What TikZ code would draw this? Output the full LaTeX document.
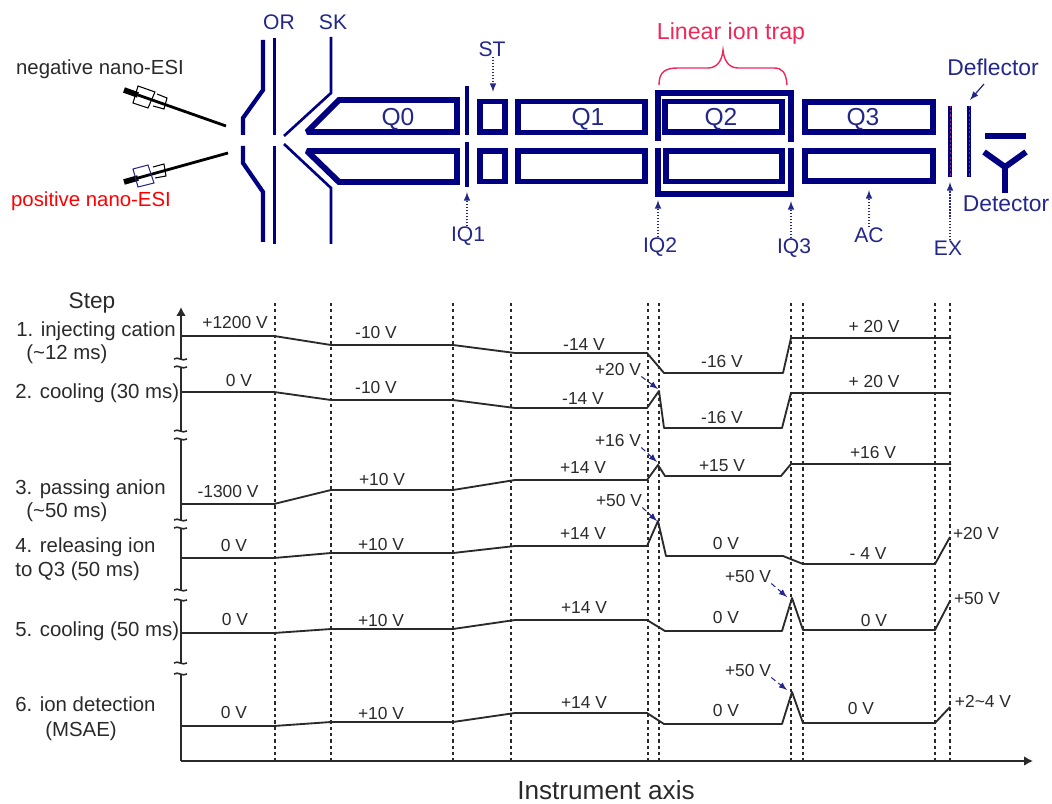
\documentclass[tikz,border=0pt]{standalone}
\usepackage{fontspec}
\usetikzlibrary{arrows.meta}
\setmainfont{Liberation Sans}
\definecolor{rodblue}{HTML}{000080}
\definecolor{tagblue}{HTML}{23278A}
\definecolor{trappink}{HTML}{F0285A}
\definecolor{tracegray}{HTML}{2A2A2A}
\definecolor{platedot}{HTML}{A0206A}
\tikzset{
  rod/.style={draw=rodblue,line width=3.4pt,line join=miter,miter limit=1.5},
  thinrod/.style={draw=rodblue,line width=1.5pt},
  midrod/.style={draw=rodblue,line width=2.2pt},
  tag/.style={text=tagblue,font=\fontsize{12}{14}\selectfont,inner sep=0pt},
  quadtag/.style={text=tagblue,font=\fontsize{14}{16}\selectfont,inner sep=0pt},
  tagarrow/.style={draw=tagblue,densely dotted,line width=0.7pt,-latex},
  steptext/.style={anchor=west,text=tracegray,font=\fontsize{11.6}{14}\selectfont,inner sep=0pt},
  volt/.style={text=tracegray,font=\fontsize{9.9}{12}\selectfont,inner sep=0pt},
  voltarrow/.style={draw=tagblue,densely dashed,line width=0.6pt,-latex},
  trace/.style={draw=tracegray,line width=1.05pt,line join=round},
  guide/.style={draw=tracegray,line width=0.6pt,dash pattern=on 1.8pt off 1.8pt},
  axisline/.style={draw=tracegray,line width=1.2pt},
  axistip/.style={-{Latex[length=5pt,width=5.5pt]}}
}
\newcommand{\axisbreak}[1]{\draw[axisline,line width=0.9pt] (174,#1) .. controls (178,#1-3) and (182,#1+3) .. (187,#1);}
\begin{document}
\begin{tikzpicture}[x=0.02cm,y=-0.02cm]
\useasboundingbox (0,0) rectangle (1052,804);

% sources
\draw[line width=3.2pt] (124,90) -- (138,95);
\draw[line width=1.6pt] (138,95) -- (226,126);
\draw[line width=0.6pt] (138,86) -- (155,92) -- (148,108) -- (133,103) -- cycle;
\draw[line width=0.6pt] (157,94) -- (167,98) -- (164,109) -- (153,106);
\draw[line width=3.2pt] (124,182) -- (138,178);
\draw[line width=1.6pt] (138,178) -- (228,153);
\draw[line width=0.6pt] (153,167) -- (164,164) -- (166,176) -- (155,178);
\draw[draw=tagblue,line width=0.6pt] (133,169) -- (148,165) -- (154,183) -- (138,187) -- cycle;

% orifice and skimmer
\draw[rod,line width=2.4pt] (263,40) -- (263,90) -- (243,118) -- (243,135);
\draw[rod,line width=2.4pt] (243,146) -- (243,163) -- (263,192) -- (263,242);
\draw[midrod] (274.5,38) -- (274.5,135);
\draw[midrod] (274.5,146) -- (274.5,244);
\draw[thinrod] (331,37) -- (331,93) -- (284,136);
\draw[thinrod] (284,144) -- (331,188) -- (331,244);

% Q0
\draw[rod] (307,132) -- (339,100) -- (457,100) -- (457,132) -- cycle;
\draw[rod] (307,151) -- (339,182) -- (457,182) -- (457,151) -- cycle;
% IQ1
\draw[rod,line width=2.8pt] (467,86) -- (467,135);
\draw[rod,line width=2.8pt] (467,142) -- (467,187);
% ST
\draw[rod] (480,101.5) rectangle (505,132);
\draw[rod] (480,151) rectangle (505,181.5);
% Q1
\draw[rod] (518,101.5) rectangle (645,132.5);
\draw[rod] (518,151) rectangle (645,181.5);
% Q2
\draw[rod] (665,101.5) rectangle (782,132);
\draw[rod] (666,151) rectangle (782,181.5);
% IQ2, IQ3
\draw[rod] (658,141) -- (658,93) -- (791,93) -- (791,142);
\draw[rod] (658,148) -- (658,194) -- (791,194) -- (791,148);
% Q3
\draw[rod] (805,102) rectangle (933,132);
\draw[rod] (805,151) rectangle (933,181);
% EX and deflector
\draw[rod,line width=2.2pt] (950,106) -- (950,177);
\draw[rod,line width=2.2pt] (969,106) -- (969,177);
\draw[draw=platedot,line width=0.5pt,dash pattern=on 1.2pt off 1.2pt] (950,106) -- (950,177);
\draw[draw=platedot,line width=0.5pt,dash pattern=on 1.2pt off 1.2pt] (969,106) -- (969,177);
% detector
\draw[rod,line width=3.4pt] (985,136) -- (1026,136);
\draw[rod] (984,152) -- (1005,167) -- (1026,152);
\draw[rod] (1005,167) -- (1005,193);

% top labels
\node[text=tracegray,font=\fontsize{11.6}{14}\selectfont,inner sep=0pt] (negesi) at (100,69) {negative nano-ESI};
\node[text=red,font=\fontsize{11.6}{14}\selectfont,inner sep=0pt] (posesi) at (91,201) {positive nano-ESI};
\node[tag] (OR) at (279,22) {OR};
\node[tag] (SK) at (333,22) {SK};
\node[tag] (ST) at (492,49) {ST};
\node[tag] (IQ1) at (468,236) {IQ1};
\node[tag] (IQ2) at (660,247) {IQ2};
\node[tag] (IQ3) at (794,248) {IQ3};
\node[tag] (AC) at (869,235) {AC};
\node[tag] (EX) at (948,248) {EX};
\node[tag,font=\fontsize{13}{15}\selectfont] (deflector) at (993,67) {Deflector};
\node[tag,font=\fontsize{13}{15}\selectfont] (detector) at (1006,204) {Detector};
\node[quadtag] (Q0) at (398,119) {Q0};
\node[quadtag] (Q1) at (588,119) {Q1};
\node[quadtag] (Q2) at (721,119) {Q2};
\node[quadtag] (Q3) at (863,119) {Q3};
\node[text=trappink,font=\fontsize{13.2}{15}\selectfont,inner sep=0pt] (trap) at (731,34) {Linear ion trap};

\coordinate (STtip) at (493,92);
\coordinate (IQ1tip) at (467,192);
\coordinate (IQ2tip) at (658,200);
\coordinate (IQ3tip) at (791,201);
\coordinate (ACtip) at (869,190);
\coordinate (EXtip) at (950,182);
\coordinate (deftip) at (970,100);
\draw[tagarrow] (ST.south -| STtip) -- (STtip);
\draw[tagarrow] (IQ1.north -| IQ1tip) -- (IQ1tip);
\draw[tagarrow] (IQ2.north -| IQ2tip) -- (IQ2tip);
\draw[tagarrow] (IQ3.north -| IQ3tip) -- (IQ3tip);
\draw[tagarrow] (AC.north -| ACtip) -- (ACtip);
\draw[tagarrow] (EX.north -| EXtip) -- (EXtip);
\draw[draw=tagblue,line width=0.7pt,-latex] (984,84) -- (deftip);

\draw[draw=trappink,line width=0.8pt] (659,85) .. controls (659,72) and (665,68) .. (678,68) -- (708,68) .. controls (716,68) and (722,62) .. (723,50) .. controls (724,62) and (730,68) .. (738,68) -- (774,68) .. controls (782,68) and (786,72) .. (787,85);

% axes
\coordinate (origin) at (181,761);
\coordinate (ytop) at (181,307);
\coordinate (xend) at (1033,761);
\draw[axisline,axistip] (181,359) -- (ytop);
\draw[axisline] (181,367) -- (181,431);
\draw[axisline] (181,439) -- (181,520);
\draw[axisline] (181,528) -- (181,590);
\draw[axisline] (181,600) -- (181,663);
\draw[axisline] (181,674) -- (origin);
\draw[axisline,axistip] (origin) -- (xend);
\axisbreak{359}
\axisbreak{367}
\axisbreak{431}
\axisbreak{439}
\axisbreak{520}
\axisbreak{528}
\axisbreak{590}
\axisbreak{600}
\axisbreak{663}
\axisbreak{674}

% guides
\draw[guide] (275,303) -- (275,761);
\draw[guide] (331,303) -- (331,761);
\draw[guide] (453,303) -- (453,761);
\draw[guide] (511,303) -- (511,761);
\draw[guide] (648,303) -- (648,761);
\draw[guide] (659,303) -- (659,761);
\draw[guide] (791,303) -- (791,761);
\draw[guide] (803,303) -- (803,761);
\draw[guide] (935,303) -- (935,761);
\draw[guide] (950,303) -- (950,761);

% traces
\draw[trace] (182,336) -- (274,336) -- (331,345) -- (453,345) -- (515,353) -- (647,353) -- (664,373) -- (783,373) -- (791,338) -- (951,338);
\draw[trace] (182,392) -- (274,392) -- (331,400) -- (453,400) -- (515,408) -- (647,408) -- (659,391) -- (664,428) -- (782,428) -- (791,393) -- (951,393);
\draw[trace] (182,504) -- (274,504) -- (331,490) -- (453,490) -- (515,480) -- (647,480) -- (658,465) -- (665,476) -- (781,476) -- (791,464) -- (951,464);
\draw[trace] (182,558) -- (274,558) -- (331,553) -- (453,553) -- (515,546) -- (647,546) -- (658,521) -- (666,556) -- (783,556) -- (803,564) -- (935,564) -- (950,537);
\draw[trace] (182,633) -- (274,633) -- (331,629) -- (453,629) -- (515,620) -- (647,620) -- (665,631) -- (782,631) -- (792,598) -- (803,630) -- (935,630) -- (950,601);
\draw[trace] (182,726) -- (274,726) -- (331,722) -- (453,722) -- (515,713) -- (647,713) -- (664,724) -- (782,724) -- (792,692) -- (803,723) -- (935,723) -- (950,707);

% step labels
\node[text=tracegray,font=\fontsize{12.9}{15}\selectfont,inner sep=0pt] (step) at (92,303) {Step};
\node[steptext] (s1a) at (16,331) {1. injecting cation};
\node[steptext] (s1b) at (26,354) {(\textasciitilde12 ms)};
\node[steptext] (s2) at (15,393) {2. cooling (30 ms)};
\node[steptext] (s3a) at (15,489) {3. passing anion};
\node[steptext] (s3b) at (26,512) {(\textasciitilde50 ms)};
\node[steptext] (s4a) at (15,547) {4. releasing ion};
\node[steptext] (s4b) at (15,571) {to Q3 (50 ms)};
\node[steptext] (s5) at (15,631) {5. cooling (50 ms)};
\node[steptext] (s6a) at (15,704) {6. ion detection};
\node[steptext] (s6b) at (45,731) {(MSAE)};
\node[text=tracegray,font=\fontsize{14.9}{17}\selectfont,inner sep=0pt] (axislabel) at (606,790) {Instrument axis};

% voltages
\node[volt] (a1) at (235,323) {+1200 V};
\node[volt] (a2) at (239,381) {0 V};
\node[volt] (a3) at (228,492) {-1300 V};
\node[volt] (a4) at (234,546) {0 V};
\node[volt] (a5) at (235,620) {0 V};
\node[volt] (a6) at (234,713) {0 V};
\node[volt] (b1) at (376,333) {-10 V};
\node[volt] (b2) at (376,388) {-10 V};
\node[volt] (b3) at (382,480) {+10 V};
\node[volt] (b4) at (381,545) {+10 V};
\node[volt] (b5) at (381,621) {+10 V};
\node[volt] (b6) at (381,714) {+10 V};
\node[volt] (c1) at (584,345) {-14 V};
\node[volt] (c2) at (583,399) {-14 V};
\node[volt] (c3) at (583,468) {+14 V};
\node[volt] (c4) at (583,534) {+14 V};
\node[volt] (c5) at (584,608) {+14 V};
\node[volt] (c6) at (584,703) {+14 V};
\node[volt] (d1) at (722,362) {-16 V};
\node[volt] (d2) at (722,418) {-16 V};
\node[volt] (d3) at (722,466) {+15 V};
\node[volt] (d4) at (726,544) {0 V};
\node[volt] (d5) at (726,618) {0 V};
\node[volt] (d6) at (726,711) {0 V};
\node[volt] (e1) at (874,327) {+ 20 V};
\node[volt] (e2) at (874,382) {+ 20 V};
\node[volt] (e3) at (873,453) {+16 V};
\node[volt] (e4) at (868,554) {- 4 V};
\node[volt] (e5) at (874,621) {0 V};
\node[volt] (e6) at (861,709) {0 V};
\node[volt] (f4) at (976,534) {+20 V};
\node[volt] (f5) at (977,599) {+50 V};
\node[volt] (f6) at (983,701) {+2\textasciitilde4 V};

\node[volt] (p2) at (618,370) {+20 V};
\node[volt] (p3) at (618,441) {+16 V};
\node[volt] (p4) at (619,501) {+50 V};
\node[volt] (p5) at (748,577) {+50 V};
\node[volt] (p6) at (748,671) {+50 V};
\coordinate (p2tip) at (658,389);
\coordinate (p3tip) at (657,462);
\coordinate (p4tip) at (657,521);
\coordinate (p5tip) at (787,597);
\coordinate (p6tip) at (787,690);
\draw[voltarrow] (p2.south east) -- (p2tip);
\draw[voltarrow] (p3.south east) -- (p3tip);
\draw[voltarrow] (p4.south east) -- (p4tip);
\draw[voltarrow] (p5.south east) -- (p5tip);
\draw[voltarrow] (p6.south east) -- (p6tip);
\end{tikzpicture}
\end{document}
